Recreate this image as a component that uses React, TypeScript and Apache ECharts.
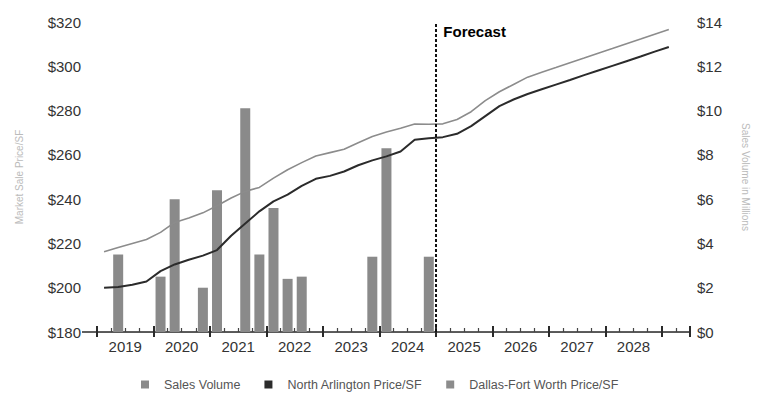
import React, { useEffect, useRef } from 'react';
import * as echarts from 'echarts';

// ---- Data ----
const yearLabels = ['2019', '2020', '2021', '2022', '2023', '2024', '2025', '2026', '2027', '2028'];
const quarterNames = ['Q1', 'Q2', 'Q3', 'Q4'];
const quarters: string[] = ['2019', '2020', '2021', '2022', '2023', '2024', '2025', '2026', '2027', '2028', '2029']
  .flatMap((y) => quarterNames.map((q) => `${y} ${q}`))
  .slice(0, 41);

// Sales volume in millions (per quarter, null = no sales)
const salesVolume: (number | null)[] = [
  null, 3.5, null, null, 2.5, 6.0, null, 2.0, 6.4, null,
  10.1, 3.5, 5.6, 2.4, 2.5, null, null, null, null, 3.4,
  8.3, null, null, 3.4, null, null, null, null, null, null,
  null, null, null, null, null, null, null, null, null, null, null,
];

const northArlington = [
  200.0, 200.3, 201.3, 202.8, 207.5, 210.5, 212.6, 214.5, 217.0, 223.5,
  229.0, 234.5, 239.0, 242.0, 246.0, 249.2, 250.5, 252.5, 255.3, 257.5,
  259.3, 261.5, 266.8, 267.5, 268.0, 269.5, 273.0, 277.5, 282.0, 285.0,
  287.5, 289.6, 291.7, 293.8, 296.0, 298.1, 300.2, 302.3, 304.4, 306.6, 308.7,
];

const dallasFortWorth = [
  216.2, 218.2, 220.0, 221.8, 225.0, 229.5, 231.5, 233.8, 237.0, 240.5,
  243.5, 245.3, 249.5, 253.3, 256.5, 259.5, 261.0, 262.5, 265.5, 268.3,
  270.3, 272.0, 273.9, 273.8, 274.0, 276.0, 279.5, 284.5, 288.5, 291.8,
  295.1, 297.3, 299.4, 301.6, 303.7, 305.9, 308.0, 310.2, 312.3, 314.5, 316.6,
];

const forecastStart = 2025;
const forecastLabelPrice = 315.8;

const FONT = '"Liberation Sans", Arial, Helvetica, sans-serif';
const quarterX = (i: number) => 2019 + (i + 0.5) / 4;

export default function App() {
  const ref = useRef<HTMLDivElement>(null);

  useEffect(() => {
    document.body.style.margin = '0';
    if (!ref.current) return;
    const chart = echarts.init(ref.current, undefined, { renderer: 'svg' });

    const axisDark = '#2a2a2a';
    const tickLabel = { fontSize: 15, color: '#333', fontFamily: FONT };

    const option: any = {
      animation: false,
      textStyle: { fontFamily: FONT },
      grid: { left: 97, right: 75, top: 22, bottom: 65 },
      legend: {
        bottom: 1,
        left: 136,
        icon: 'rect',
        itemWidth: 8,
        itemHeight: 8,
        itemGap: 24,
        textStyle: { fontSize: 12.5, color: '#555', fontFamily: FONT, padding: [0, 0, 0, 10] },
        data: ['Sales Volume', 'North Arlington Price/SF', 'Dallas-Fort Worth Price/SF'],
      },
      xAxis: [
        {
          type: 'value',
          min: 2019,
          max: 2029.5,
          interval: 1,
          position: 'bottom',
          axisLine: { show: true, lineStyle: { color: axisDark, width: 1.5 } },
          axisTick: { show: true, inside: true, length: 6, lineStyle: { color: axisDark, width: 2 } },
          minorTick: { show: true, splitNumber: 4, length: 4, lineStyle: { color: '#444', width: 1.2 } },
          splitLine: { show: false },
          axisLabel: {
            show: true,
            customValues: yearLabels.map((y) => Number(y) + 0.5),
            formatter: (v: number) => yearLabels[Math.floor(v) - 2019] ?? '',
            margin: 7,
            ...tickLabel,
          },
        },
        {
          type: 'value',
          min: 2019,
          max: 2029.5,
          interval: 1,
          position: 'bottom',
          axisLine: { show: false },
          axisTick: { show: true, inside: false, length: 5, lineStyle: { color: axisDark, width: 2 } },
          minorTick: { show: false },
          splitLine: { show: false },
          axisLabel: { show: false },
        },
      ],
      yAxis: [
        {
          type: 'value',
          min: 180,
          max: 320,
          interval: 20,
          position: 'left',
          name: 'Market Sale Price/SF',
          nameLocation: 'middle',
          nameGap: 73,
          nameRotate: 90,
          nameTextStyle: { color: '#bbb', fontSize: 10, fontFamily: FONT },
          axisLine: { show: false },
          axisTick: { show: true, customValues: [180], length: 15, lineStyle: { color: axisDark, width: 1.5 } },
          axisLabel: { formatter: (v: number) => '$' + v, margin: 16, ...tickLabel },
          splitLine: { show: true, lineStyle: { color: '#e6e6e6', width: 1 } },
        },
        {
          type: 'value',
          min: 0,
          max: 14,
          interval: 2,
          position: 'right',
          name: 'Sales Volume in Millions',
          nameLocation: 'middle',
          nameGap: 50,
          nameRotate: -90,
          nameTextStyle: { color: '#bbb', fontSize: 10, fontFamily: FONT },
          axisLine: { show: false },
          axisTick: { show: false },
          axisLabel: { formatter: (v: number) => '$' + v, margin: 7, ...tickLabel },
          splitLine: { show: false },
        },
      ],
      series: [
        {
          name: 'Sales Volume',
          type: 'bar',
          xAxisIndex: 0,
          yAxisIndex: 1,
          barWidth: 10,
          itemStyle: { color: '#8a8a8a' },
          data: salesVolume
            .map((v, i) => (v == null ? null : [quarterX(i), v, quarters[i]]))
            .filter((d) => d !== null),
          z: 2,
        },
        {
          name: 'North Arlington Price/SF',
          type: 'line',
          xAxisIndex: 0,
          yAxisIndex: 0,
          symbol: 'none',
          lineStyle: { color: '#2b2b2b', width: 2 },
          itemStyle: { color: '#2b2b2b' },
          data: northArlington.map((v, i) => [quarterX(i), v, quarters[i]]),
          z: 4,
        },
        {
          name: 'Dallas-Fort Worth Price/SF',
          type: 'line',
          xAxisIndex: 0,
          yAxisIndex: 0,
          symbol: 'none',
          lineStyle: { color: '#8c8c8c', width: 1.6 },
          itemStyle: { color: '#8c8c8c' },
          data: dallasFortWorth.map((v, i) => [quarterX(i), v, quarters[i]]),
          z: 3,
          markLine: {
            silent: true,
            symbol: 'none',
            label: { show: false },
            lineStyle: { color: '#111', width: 2, type: [3, 2] },
            data: [{ xAxis: forecastStart }],
          },
          markPoint: {
            silent: true,
            symbol: 'rect',
            symbolSize: 1,
            itemStyle: { color: 'rgba(0,0,0,0)' },
            label: {
              show: true,
              position: 'right',
              distance: 7,
              formatter: 'Forecast',
              color: '#000',
              fontWeight: 'bold',
              fontSize: 15,
              fontFamily: FONT,
            },
            data: [{ coord: [forecastStart, forecastLabelPrice] }],
          },
        },
      ],
    };

    chart.setOption(option);
    return () => chart.dispose();
  }, []);

  return <div ref={ref} style={{ width: 765, height: 397 }} />;
}
